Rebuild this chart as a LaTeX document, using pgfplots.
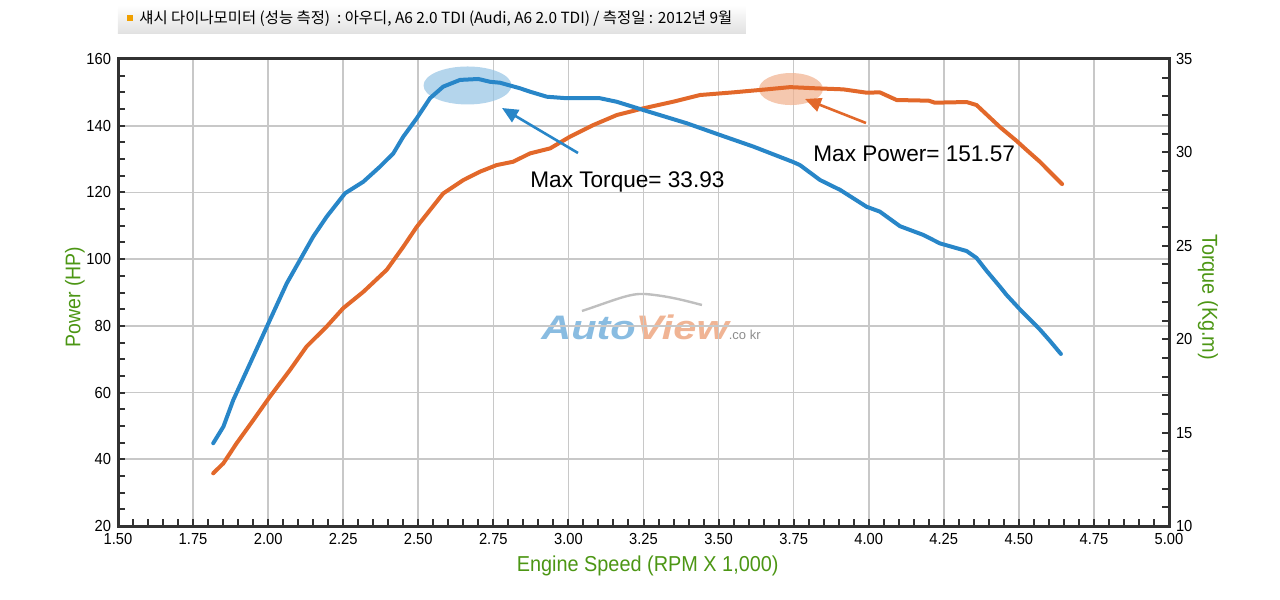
\documentclass[border=0pt]{standalone}
\usepackage{fontspec}
\setmainfont{Liberation Sans}
\newfontfamily\narrowf[FakeStretch=0.92]{Liberation Sans}
\newfontfamily\logof[FakeStretch=1.22]{Liberation Sans}
\newfontfamily\cjk{Noto Sans CJK KR}
\usepackage{pgfplots}
\pgfplotsset{compat=1.18}
\usetikzlibrary{arrows.meta}
\definecolor{tq}{RGB}{40,134,200}
\definecolor{pw}{RGB}{226,104,42}
\definecolor{lbl}{RGB}{76,150,20}
\definecolor{gridc}{RGB}{200,200,200}
\definecolor{framec}{RGB}{50,50,50}
\definecolor{ellb}{RGB}{148,195,228}
\definecolor{ello}{RGB}{241,176,141}
\definecolor{sq}{RGB}{240,160,0}

\pgfplotstableread{
x y
1.817 14.43
1.851 15.32
1.884 16.75
1.940 18.71
2.006 21.03
2.062 22.99
2.106 24.24
2.150 25.49
2.195 26.56
2.256 27.81
2.317 28.43
2.372 29.23
2.417 29.95
2.450 30.84
2.495 31.83
2.539 32.90
2.583 33.52
2.639 33.88
2.700 33.93
2.739 33.78
2.772 33.73
2.839 33.43
2.872 33.25
2.928 32.98
2.994 32.90
3.105 32.90
3.161 32.71
3.249 32.27
3.394 31.56
3.505 30.93
3.616 30.31
3.749 29.48
3.771 29.32
3.838 28.52
3.905 27.99
3.993 27.09
4.037 26.83
4.104 26.05
4.182 25.58
4.237 25.13
4.326 24.72
4.359 24.35
4.393 23.65
4.437 22.81
4.459 22.37
4.504 21.59
4.570 20.52
4.604 19.90
4.640 19.21
}\torque

\pgfplotstableread{
x y
1.817 35.8
1.851 38.8
1.895 44.8
1.951 51.8
2.006 58.8
2.073 66.8
2.128 73.8
2.195 79.8
2.250 85.3
2.317 90.2
2.395 96.8
2.450 103.7
2.495 109.7
2.539 114.7
2.583 119.7
2.650 123.7
2.705 126.2
2.761 128.2
2.816 129.2
2.872 131.7
2.939 133.2
3.005 136.7
3.083 140.2
3.161 143.2
3.249 145.2
3.349 147.2
3.438 149.2
3.549 150.0
3.660 150.9
3.738 151.57
3.827 151.2
3.915 150.9
3.993 149.9
4.037 150.0
4.093 147.7
4.150 147.6
4.200 147.5
4.220 146.9
4.326 147.1
4.359 146.2
4.437 139.6
4.493 135.4
4.526 132.7
4.570 129.2
4.604 126.1
4.626 124.1
4.644 122.5
}\power

\begin{document}
\begin{tikzpicture}
\useasboundingbox (-59bp,-37bp) rectangle (581bp,263bp);
\begin{scope}[x=0.5bp,y=-0.5bp,shift={(-59bp,263bp)}]
  \shade[top color=white, bottom color=black!12] (118,5) rectangle (746,34);
  \fill[sq] (127,15) rectangle (133,21);
  \node[anchor=west, inner sep=0, font=\cjk\fontsize{7.7bp}{9bp}\selectfont] at (139,18.5)
   {섀시 다이나모미터 (성능 측정) \ :\  아우디, A6 2.0 TDI (Audi, A6 2.0 TDI) / 측정일 : 2012년 9월};
  % watermark
  \draw[black!25, line width=1.2bp] (582,311) .. controls (615,300) and (630,293) .. (645,294) .. controls (670,296) and (690,302) .. (702,305);
  \node[anchor=base west, inner sep=0] at (541,340)
   {\logof\bfseries\itshape\fontsize{17bp}{17bp}\selectfont{\color{tq!55!white}Auto}{\color{pw!50!white}View}{\normalfont\fontsize{6.5bp}{7bp}\selectfont\color{black!45}.co kr}};
\end{scope}

\begin{axis}[
  at={(0,0)}, anchor=south west, scale only axis,
  width=525.5bp, height=233.5bp,
  xmin=1.5, xmax=5, ymin=20, ymax=160,
  axis line style={framec, line width=1.5bp},
  xtick={1.5,1.75,...,5.01}, minor x tick num=4,
  ytick={20,40,...,160}, minor y tick num=3,
  xtick pos=lower, ytick pos=left,
  tick align=inside,
  tick style={framec, line width=1bp},
  major tick length=3.5bp, minor tick length=3.5bp,
  grid=major, major grid style={gridc, line width=0.8bp},
  /pgf/number format/assume math mode=true,
  xticklabel style={font=\narrowf\fontsize{8bp}{9bp}\selectfont, black,
     /pgf/number format/.cd, fixed, fixed zerofill, precision=2},
  yticklabel style={font=\narrowf\fontsize{8bp}{9bp}\selectfont, black},
  xlabel={Engine Speed (RPM X 1,000)},
  ylabel={Power (HP)},
  xlabel style={at={(axis description cs:0.504,-0.0857)}, anchor=center,
     font=\narrowf\fontsize{10.8bp}{12bp}\selectfont, lbl},
  ylabel style={at={(axis description cs:-0.041,0.49)}, anchor=center,
     font=\narrowf\fontsize{10.6bp}{12bp}\selectfont, lbl},
]
\fill[ellb, opacity=0.7] (axis cs:2.664,152.06) ellipse [x radius=22bp, y radius=9.5bp];
\fill[ello, opacity=0.7] (axis cs:3.741,151.0) ellipse [x radius=16bp, y radius=8bp];
\addplot[pw, line width=2bp, line join=round, line cap=round] table[x=x,y=y] {\power};
\end{axis}

\begin{axis}[
  at={(0,0)}, anchor=south west, scale only axis,
  width=525.5bp, height=233.5bp,
  xmin=1.5, xmax=5, ymin=10, ymax=35,
  hide x axis, axis y line*=right,
  axis line style={framec, line width=1.5bp},
  ytick={10,15,...,35}, minor y tick num=4,
  tick align=inside,
  tick style={framec, line width=1bp},
  major tick length=3.5bp, minor tick length=3.5bp,
  /pgf/number format/assume math mode=true,
  yticklabel style={font=\narrowf\fontsize{8bp}{9bp}\selectfont, black},
  ylabel={Torque (Kg.m)},
  ylabel style={at={(axis description cs:1.037,0.49)}, anchor=center, rotate=180,
     font=\narrowf\fontsize{10.8bp}{12bp}\selectfont, lbl},
]
\addplot[tq, line width=2bp, line join=round, line cap=round] table[x=x,y=y] {\torque};
\end{axis}

\begin{scope}[x=0.5bp,y=-0.5bp,shift={(-59bp,263bp)}]
  \draw[tq, line width=1.3bp, -{Triangle[length=8bp,width=7bp]}] (578,153) -- (502,108);
  \draw[pw, line width=1.3bp, -{Triangle[length=8bp,width=7bp]}] (866,123) -- (805,99);
  \node[anchor=base west, inner sep=0, font=\fontsize{11.3bp}{13bp}\selectfont] at (530,188) {Max Torque= 33.93};
  \node[anchor=base west, inner sep=0, font=\fontsize{11.3bp}{13bp}\selectfont] at (813,162) {Max Power= 151.57};
\end{scope}
\end{tikzpicture}
\end{document}
